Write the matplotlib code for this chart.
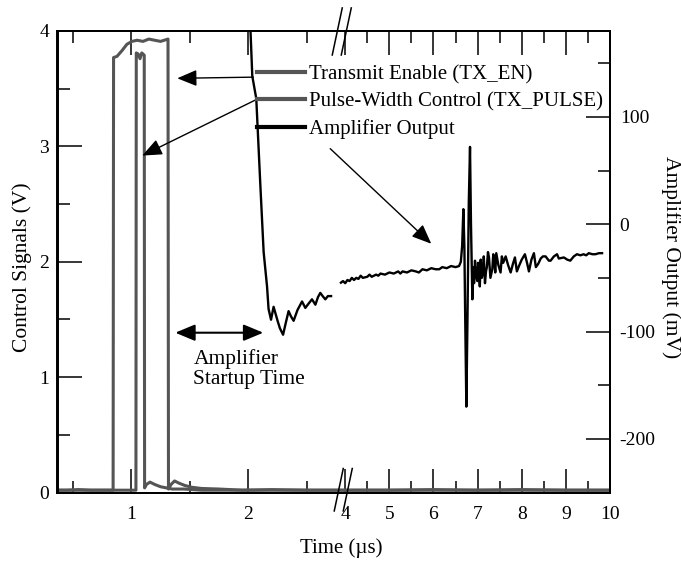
# -*- coding: utf-8 -*-
"""Control signals and amplifier output on a broken time axis"""

import numpy as np
import matplotlib.pyplot as plt
from matplotlib.ticker import FixedLocator, NullFormatter

plt.rcParams['font.family'] = ['Liberation Serif', 'DejaVu Serif']
plt.rcParams['axes.unicode_minus'] = False

# Transmit Enable (V) vs time (us)
t_en = [0.37, 0.45, 0.55, 0.65, 0.75, 0.845, 0.849, 0.878, 0.921, 0.963, 1.006,
        1.05, 1.10, 1.15, 1.20, 1.25, 1.314, 1.318, 1.34, 1.37, 1.41, 1.46, 1.52,
        1.60, 1.75, 1.95, 2.2, 2.5, 2.79, 3.90, 5.0, 6.0, 7.0, 8.0, 9.0, 10.0]
v_en = [0.02, 0.02, 0.025, 0.02, 0.02, 0.02, 3.77, 3.78, 3.83, 3.885, 3.91,
        3.92, 3.91, 3.93, 3.92, 3.91, 3.93, 0.03, 0.07, 0.10, 0.08, 0.06, 0.045,
        0.035, 0.03, 0.02, 0.025, 0.02, 0.02, 0.02, 0.02, 0.025, 0.02, 0.025, 0.02, 0.02]

# Pulse-Width Control (V)
t_pulse = [0.37, 0.6, 0.85, 1.0, 1.040, 1.043, 1.06, 1.075, 1.09, 1.111, 1.114,
           1.13, 1.16, 1.20, 1.25, 1.30, 1.35, 1.45, 1.6, 2.0, 2.79, 3.90, 10.0]
v_pulse = [0.02, 0.02, 0.02, 0.02, 0.02, 3.81, 3.80, 3.76, 3.81, 3.79, 0.04,
           0.07, 0.09, 0.07, 0.05, 0.04, 0.03, 0.03, 0.02, 0.02, 0.02, 0.02, 0.02]

# Amplifier output (mV), first segment (before the break)
t_amp1 = [2.010, 2.017, 2.034, 2.068, 2.103, 2.131, 2.160, 2.173, 2.194, 2.216,
          2.25, 2.27, 2.297, 2.320, 2.344, 2.365, 2.387, 2.420, 2.459, 2.487,
          2.515, 2.544, 2.573, 2.595, 2.615, 2.635, 2.658, 2.680, 2.707]
mv_amp1 = [195, 185, 138, 117, 36, -26, -58, -79, -89, -77,
           -90, -97, -103, -92, -81, -86, -90, -80, -72, -78,
           -74, -70, -75, -68, -64, -67, -70, -67, -67]

# Amplifier output (mV), second segment (after the break)
t_amp2 = [3.903, 3.95, 4.00, 4.05, 4.10, 4.15, 4.20, 4.25, 4.30, 4.35, 4.40, 4.50,
          4.55, 4.60, 4.70, 4.75, 4.80, 4.90, 5.00, 5.10, 5.20, 5.25, 5.30, 5.40,
          5.50, 5.60, 5.67, 5.75, 5.85, 5.95, 6.05, 6.13, 6.20, 6.30, 6.40, 6.50,
          6.58, 6.62, 6.65, 6.677, 6.70, 6.72, 6.745, 6.77, 6.80, 6.828, 6.85,
          6.881, 6.90, 6.92, 6.941, 6.965, 6.993, 7.01, 7.03, 7.05, 7.07, 7.095,
          7.12, 7.14, 7.167, 7.19, 7.21, 7.235, 7.258, 7.29, 7.333, 7.355,
          7.38, 7.40, 7.423, 7.47, 7.52, 7.55, 7.58, 7.636, 7.69, 7.749, 7.80,
          7.846, 7.89, 7.937, 8.00, 8.072, 8.12, 8.163, 8.22, 8.276, 8.32, 8.373,
          8.43, 8.48, 8.54, 8.615, 8.654, 8.729, 8.80, 8.84, 8.955, 9.03, 9.10,
          9.18, 9.25, 9.33, 9.40, 9.46, 9.52, 9.60, 9.67, 9.75, 9.82]
mv_amp2 = [-54.5, -53, -55, -52, -53, -50, -52, -50, -51, -48, -50, -49,
           -47, -49, -47, -48, -46, -47, -45, -46, -44, -46, -44, -45,
           -43, -44, -45, -42, -43, -41, -42, -42, -40, -41, -39, -40,
           -39, -35, -20, 14, -20, -90, -170, -90, 20, 72, 0,
           -70, -40, -55, -34, -48, -53, -36, -42, -58, -33, -50,
           -45, -30, -55, -44, -40, -26, -31, -50, -42, -28,
           -35, -45, -27, -38, -45, -30, -36, -30, -38, -45, -37,
           -31, -44, -39, -33, -28, -36, -44, -33, -27, -40, -37,
           -32, -30, -30, -34, -34, -30, -28, -32, -31, -33, -34,
           -30, -28, -29, -28, -29, -27, -28, -28, -27, -27]

x_major = [1, 2, 4, 5, 6, 7, 8, 9, 10]
x_minor = [0.5, 1.5, 2.5, 4.5, 5.5, 6.5, 7.5, 8.5, 9.5]

# broken time axis: 0.37-2.79 at full scale, 3.90-10 compressed
t_pts = [-100, 2.79, 3.90, 100]
u_pts = [-100, 2.79, 2.7901, 2.7901 + (100 - 3.90) * 0.377]


def fwd(t):
    return np.interp(t, t_pts, u_pts)


def inv(u):
    return np.interp(u, u_pts, t_pts)


gray = '#555555'
W, H = 681, 563
fig = plt.figure(figsize=(W / 100, H / 100), dpi=100)
ax = fig.add_axes([57.5 / W, 1 - 492.5 / H, 552.5 / W, 461.5 / H])
ax.set_xscale('function', functions=(fwd, inv))

l_en, = ax.plot(t_en, v_en, color=gray, lw=2.2, label='Transmit Enable (TX_EN)')
l_pulse, = ax.plot(t_pulse, v_pulse, color=gray, lw=2.2,
                   label='Pulse-Width Control (TX_PULSE)')
ax.set_xlim(0.37, 10)
ax.set_ylim(0, 4)

ax2 = ax.twinx()
ax2.plot(t_amp1, mv_amp1, color='black', lw=1.7)
l_amp, = ax2.plot(t_amp2, mv_amp2, color='black', lw=1.7, label='Amplifier Output')
ax2.set_ylim(-250, 180)

# ticks
ax.xaxis.set_major_locator(FixedLocator(x_major))
ax.xaxis.set_minor_locator(FixedLocator(x_minor))
ax.set_xticklabels([str(v) for v in x_major])
ax.xaxis.set_minor_formatter(NullFormatter())
ax.yaxis.set_major_locator(FixedLocator([0, 1, 2, 3, 4]))
ax.yaxis.set_minor_locator(FixedLocator([0.5, 1.5, 2.5, 3.5]))
ax2.yaxis.set_major_locator(FixedLocator([-200, -100, 0, 100]))
ax2.yaxis.set_minor_locator(FixedLocator([-150, -50, 50, 150]))

for a in (ax, ax2):
    a.tick_params(which='both', direction='in', labelsize=14, width=1.1)
    a.tick_params(which='major', length=17)
    a.tick_params(which='minor', length=8.5)
    for s in a.spines.values():
        s.set_linewidth(1.4)
ax.tick_params(axis='x', which='both', top=True, pad=10)
ax.tick_params(axis='y', pad=6)
ax2.tick_params(axis='y', pad=7)

ax.set_xlabel('Time (\u00b5s)', fontsize=15)
ax.xaxis.label.set_va('center')
ax.xaxis.set_label_coords(0.513, -0.120)
ax.set_ylabel('Control Signals (V)', fontsize=15.5)
ax.yaxis.label.set_va('center')
ax.yaxis.set_label_coords(-0.064, 0.489)
ax2.set_ylabel('Amplifier Output (mV)', fontsize=15.5, rotation=270)
ax2.yaxis.label.set_va('center')
ax2.yaxis.set_label_coords(1.110, 0.509)

# axis break marks
for dx in (0.0, 0.0163):
    ax.plot([0.4973 + dx, 0.5154 + dx], [0.948, 1.050], color='black', lw=1.1,
            transform=ax.transAxes, clip_on=False)
    ax.plot([0.5009 + dx, 0.5172 + dx], [-0.040, 0.052], color='black', lw=1.1,
            transform=ax.transAxes, clip_on=False)

leg = ax2.legend(handles=[l_en, l_pulse, l_amp], loc='upper left',
                 bbox_to_anchor=(257 / W, 1 - 65 / H), bbox_transform=fig.transFigure,
                 frameon=False, fontsize=15, handlelength=2.3, handletextpad=0.2,
                 labelspacing=0.36, borderpad=0, borderaxespad=0)
for h in leg.get_lines():
    h.set_linewidth(3)

head = dict(arrowstyle='-|>,head_length=0.6,head_width=0.25', mutation_scale=20,
            color='black', lw=1, shrinkA=0, shrinkB=0)
ax.annotate('', xy=(1.393, 3.59), xytext=(2.043, 3.60), arrowprops=head)
ax.annotate('', xy=(1.094, 2.92), xytext=(2.077, 3.41), arrowprops=head)
ax.annotate('', xy=(5.95, 2.156), xytext=(2.70, 2.98), arrowprops=head)
ax.annotate('', xy=(1.376, 1.385), xytext=(2.128, 1.385),
            arrowprops=dict(arrowstyle='<|-|>,head_length=0.6,head_width=0.25',
                            mutation_scale=20, color='black', lw=1.5,
                            shrinkA=0, shrinkB=0))
ax.text(1.53, 1.07, 'Amplifier\nStartup Time', fontsize=15.5, ha='left', va='center',
        linespacing=1.1)

plt.savefig('out.png', dpi=100)
